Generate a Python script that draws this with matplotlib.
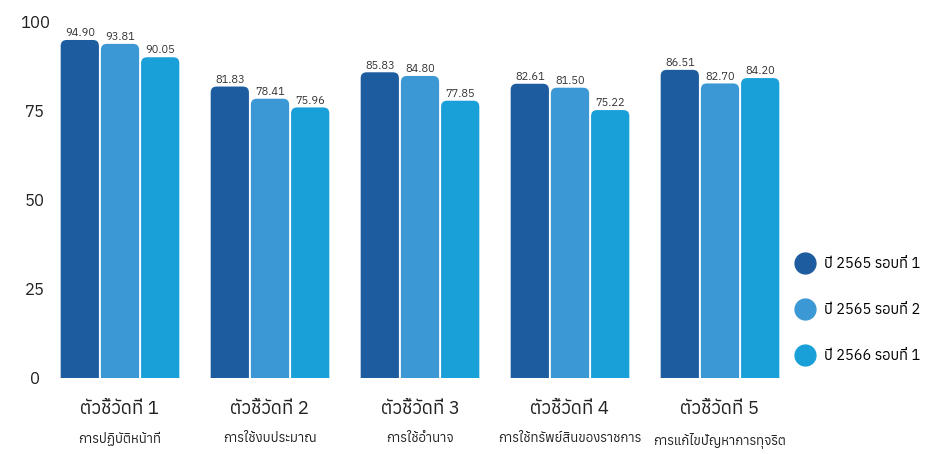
import matplotlib
matplotlib.use("Agg")
import matplotlib.pyplot as plt
from matplotlib import font_manager
from matplotlib.ft2font import FT2Font
from matplotlib.patches import FancyBboxPatch
from matplotlib.lines import Line2D

# ข้อมูล
indicators = ['ตัวชี้วัดที่ 1', 'ตัวชี้วัดที่ 2', 'ตัวชี้วัดที่ 3', 'ตัวชี้วัดที่ 4', 'ตัวชี้วัดที่ 5']
subtitles = ['การปฏิบัติหน้าที่', 'การใช้งบประมาณ', 'การใช้อำนาจ', 'การใช้ทรัพย์สินของราชการ', 'การแก้ไขปัญหาการทุจริต']
series_names = ['ปี 2565 รอบที่ 1', 'ปี 2565 รอบที่ 2', 'ปี 2566 รอบที่ 1']
y2565_r1 = [94.90, 81.83, 85.83, 82.61, 86.51]
y2565_r2 = [93.81, 78.41, 84.80, 81.50, 82.70]
y2566_r1 = [90.05, 75.96, 77.85, 75.22, 84.20]
yticks = [0, 25, 50, 75, 100]

colors = ['#1d5c9e', '#3b98d4', '#1aa0d8']

# หาฟอนต์ที่มีอักษรไทย
thai_fonts = []
for f in font_manager.fontManager.ttflist:
    try:
        if FT2Font(f.fname).get_char_index(0x0E01):
            thai_fonts.append(f.name)
    except Exception:
        pass
thai_fonts = sorted(set(thai_fonts))
plt.rcParams['font.family'] = thai_fonts[:1] + ['DejaVu Sans']

fig = plt.figure(figsize=(9.39, 4.54), dpi=100)
ax = fig.add_axes([60/939, 76/454, 735/939, 374/454])
ax.set_xlim(-0.4, 4.5)
ax.set_ylim(0, 105)

bw = 0.255
offsets = [-0.268, 0, 0.268]
# อัตราส่วนหน่วย y ต่อหน่วย x บนจอ
aspect = (105 / 374) / (4.9 / 735)
for vals, off, c in zip([y2565_r1, y2565_r2, y2566_r1], offsets, colors):
    for i, v in enumerate(vals):
        x = i + off - bw/2
        p = FancyBboxPatch((x, -10), bw, v + 10,
                           boxstyle="round,pad=0,rounding_size=0.04",
                           mutation_aspect=aspect, fc=c, ec='none')
        ax.add_patch(p)
        ax.text(i + off, v + 0.5, f'{v:.2f}', ha='center', va='bottom',
                fontsize=8, color='#333333')

ax.set_yticks(yticks)
ax.tick_params(axis='y', length=0, labelsize=12, pad=18, labelcolor='#222222')
for lbl in ax.get_yticklabels():
    lbl.set_horizontalalignment('center')
ax.set_xticks([])
for s in ax.spines.values():
    s.set_visible(False)

trans = ax.get_xaxis_transform()
for i in range(len(indicators)):
    ax.text(i, -0.06, indicators[i], transform=trans, ha='center', va='top',
            fontsize=13.5, color='#222222')
    ax.text(i, -0.145, subtitles[i], transform=trans, ha='center', va='top',
            fontsize=9.5, color='#222222')

handles = [Line2D([], [], marker='o', ls='none', markersize=15, color=c) for c in colors]
fig.legend(handles, series_names, loc='center left', bbox_to_anchor=(790/939, 1 - 310/454),
           frameon=False, fontsize=10.5, labelspacing=2.2, handletextpad=0.3,
           borderpad=0, borderaxespad=0)

fig.savefig('out.png', dpi=100)
